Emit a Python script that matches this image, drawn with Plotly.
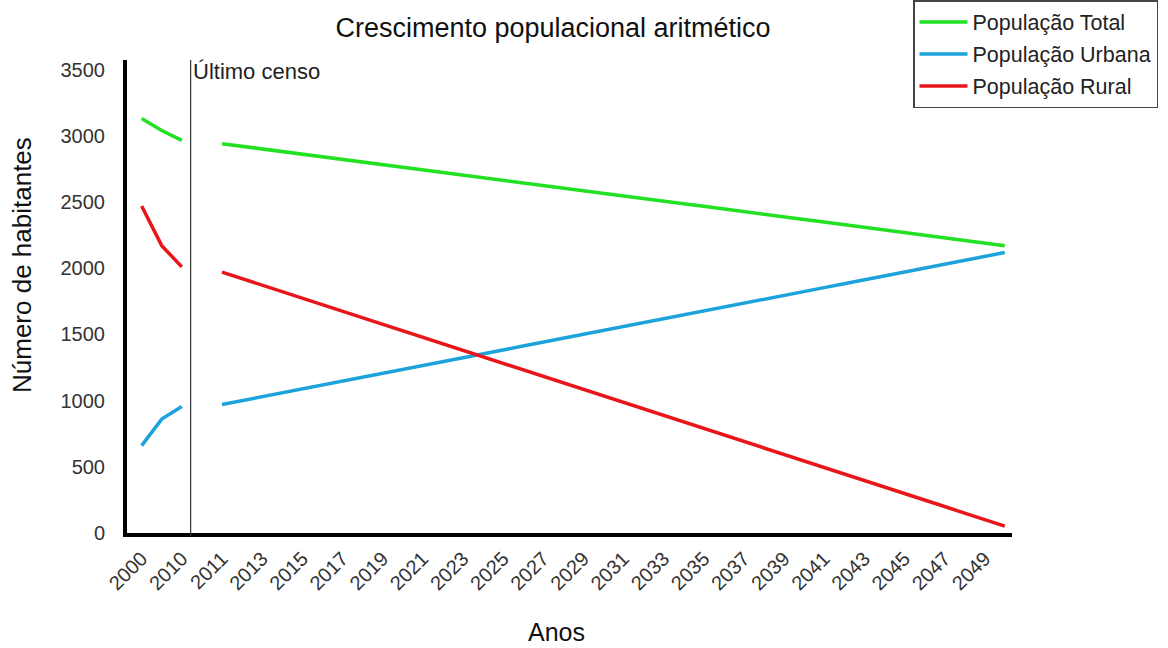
import plotly.graph_objects as go

# Census years (measured) and projection years (arithmetic growth)
census_years = ["2000", "2005", "2010"]
projection_years = [str(y) for y in range(2011, 2051)]
gap_label = " "  # empty slot separating census data from the projection

census_total = [3130, 3040, 2965]
census_urban = [660, 860, 955]
census_rural = [2470, 2170, 2010]

proj_total = [2940, 2920, 2901, 2880, 2861, 2841, 2822, 2802, 2783, 2762,
              2742, 2723, 2703, 2684, 2663, 2644, 2624, 2604, 2585, 2565,
              2545, 2525, 2506, 2486, 2467, 2446, 2426, 2407, 2387, 2368,
              2348, 2328, 2308, 2289, 2269, 2249, 2230, 2209, 2190, 2170]
proj_urban = [970, 999, 1029, 1058, 1088, 1117, 1147, 1176, 1206, 1235,
              1264, 1294, 1323, 1353, 1382, 1412, 1441, 1470, 1500, 1529,
              1559, 1588, 1618, 1647, 1677, 1706, 1735, 1765, 1794, 1824,
              1853, 1883, 1912, 1942, 1971, 2000, 2030, 2059, 2089, 2118]
proj_rural = [1970, 1921, 1872, 1822, 1773, 1724, 1675, 1626, 1577, 1527,
              1478, 1429, 1380, 1331, 1281, 1232, 1183, 1134, 1085, 1036,
              986, 937, 888, 839, 790, 740, 691, 642, 593, 544,
              495, 445, 396, 347, 298, 249, 200, 150, 101, 52]

categories = census_years + [gap_label] + projection_years
tick_vals = categories[::2]
y_ticks = [0, 500, 1000, 1500, 2000, 2500, 3000, 3500]

series = [
    ("População Total", "#22e022", census_total, proj_total),
    ("População Urbana", "#1ca3dc", census_urban, proj_urban),
    ("População Rural", "#e8161a", census_rural, proj_rural),
]

FONT = "Liberation Sans, Arial, sans-serif"

fig = go.Figure()
for name, color, past, future in series:
    fig.add_trace(go.Scatter(
        x=census_years, y=past, mode="lines", name=name,
        legendgroup=name, showlegend=False,
        line=dict(color=color, width=3.5),
    ))
    fig.add_trace(go.Scatter(
        x=projection_years, y=future, mode="lines", name=name,
        legendgroup=name, showlegend=True,
        line=dict(color=color, width=3.5),
    ))

# Marker for the most recent census
fig.add_shape(type="line", xref="x", yref="paper",
              x0=2.44, x1=2.44, y0=-0.005, y1=1,
              line=dict(color="#333333", width=1.2))
fig.add_annotation(text="Último censo", xref="x", yref="paper",
                   x=2.44, y=0.975, xanchor="left", yanchor="middle",
                   xshift=0, showarrow=False,
                   font=dict(family=FONT, size=22, color="#222222"))

# Axis titles
fig.add_annotation(text="Anos", xref="paper", yref="paper",
                   x=(556 - 127) / 885, y=-(632 - 533) / 473,
                   xanchor="center", yanchor="middle", showarrow=False,
                   font=dict(family=FONT, size=25, color="#111111"))
fig.add_annotation(text="Número de habitantes", xref="paper", yref="paper",
                   x=-(127 - 22) / 885, y=(533 - 265) / 473, textangle=-90,
                   xanchor="center", yanchor="middle", showarrow=False,
                   font=dict(family=FONT, size=26, color="#111111"))

fig.update_layout(
    width=1168, height=648,
    margin=dict(l=127, r=156, t=60, b=115, autoexpand=False),
    paper_bgcolor="white", plot_bgcolor="white",
    font=dict(family=FONT, color="#333333"),
    title=dict(text="Crescimento populacional aritmético",
               x=553 / 1168, xanchor="center",
               y=1 - 28 / 648, yanchor="middle",
               font=dict(family=FONT, size=27, color="#111111")),
    legend=dict(xref="container", yref="container",
                x=913 / 1168, y=1, xanchor="left", yanchor="top",
                bordercolor="#444444", borderwidth=1.5, bgcolor="white",
                font=dict(family=FONT, size=21.5, color="#222222"),
                tracegroupgap=1, itemwidth=48),
    xaxis=dict(type="category", categoryorder="array", categoryarray=categories,
               range=[-0.73, 43.36], tickmode="array", tickvals=tick_vals,
               ticktext=tick_vals, tickangle=-45, showgrid=False, zeroline=False,
               showline=True, linecolor="black", linewidth=4, ticks="",
               ticklabelstandoff=2,
               tickfont=dict(family=FONT, size=20, color="#333333")),
    yaxis=dict(range=[0, 3572], tickmode="array", tickvals=y_ticks,
               showgrid=False, zeroline=False, showline=True,
               linecolor="black", linewidth=4, ticks="",
               ticklabelstandoff=14,
               tickfont=dict(family=FONT, size=20, color="#333333")),
)

fig.write_html("out.html")
